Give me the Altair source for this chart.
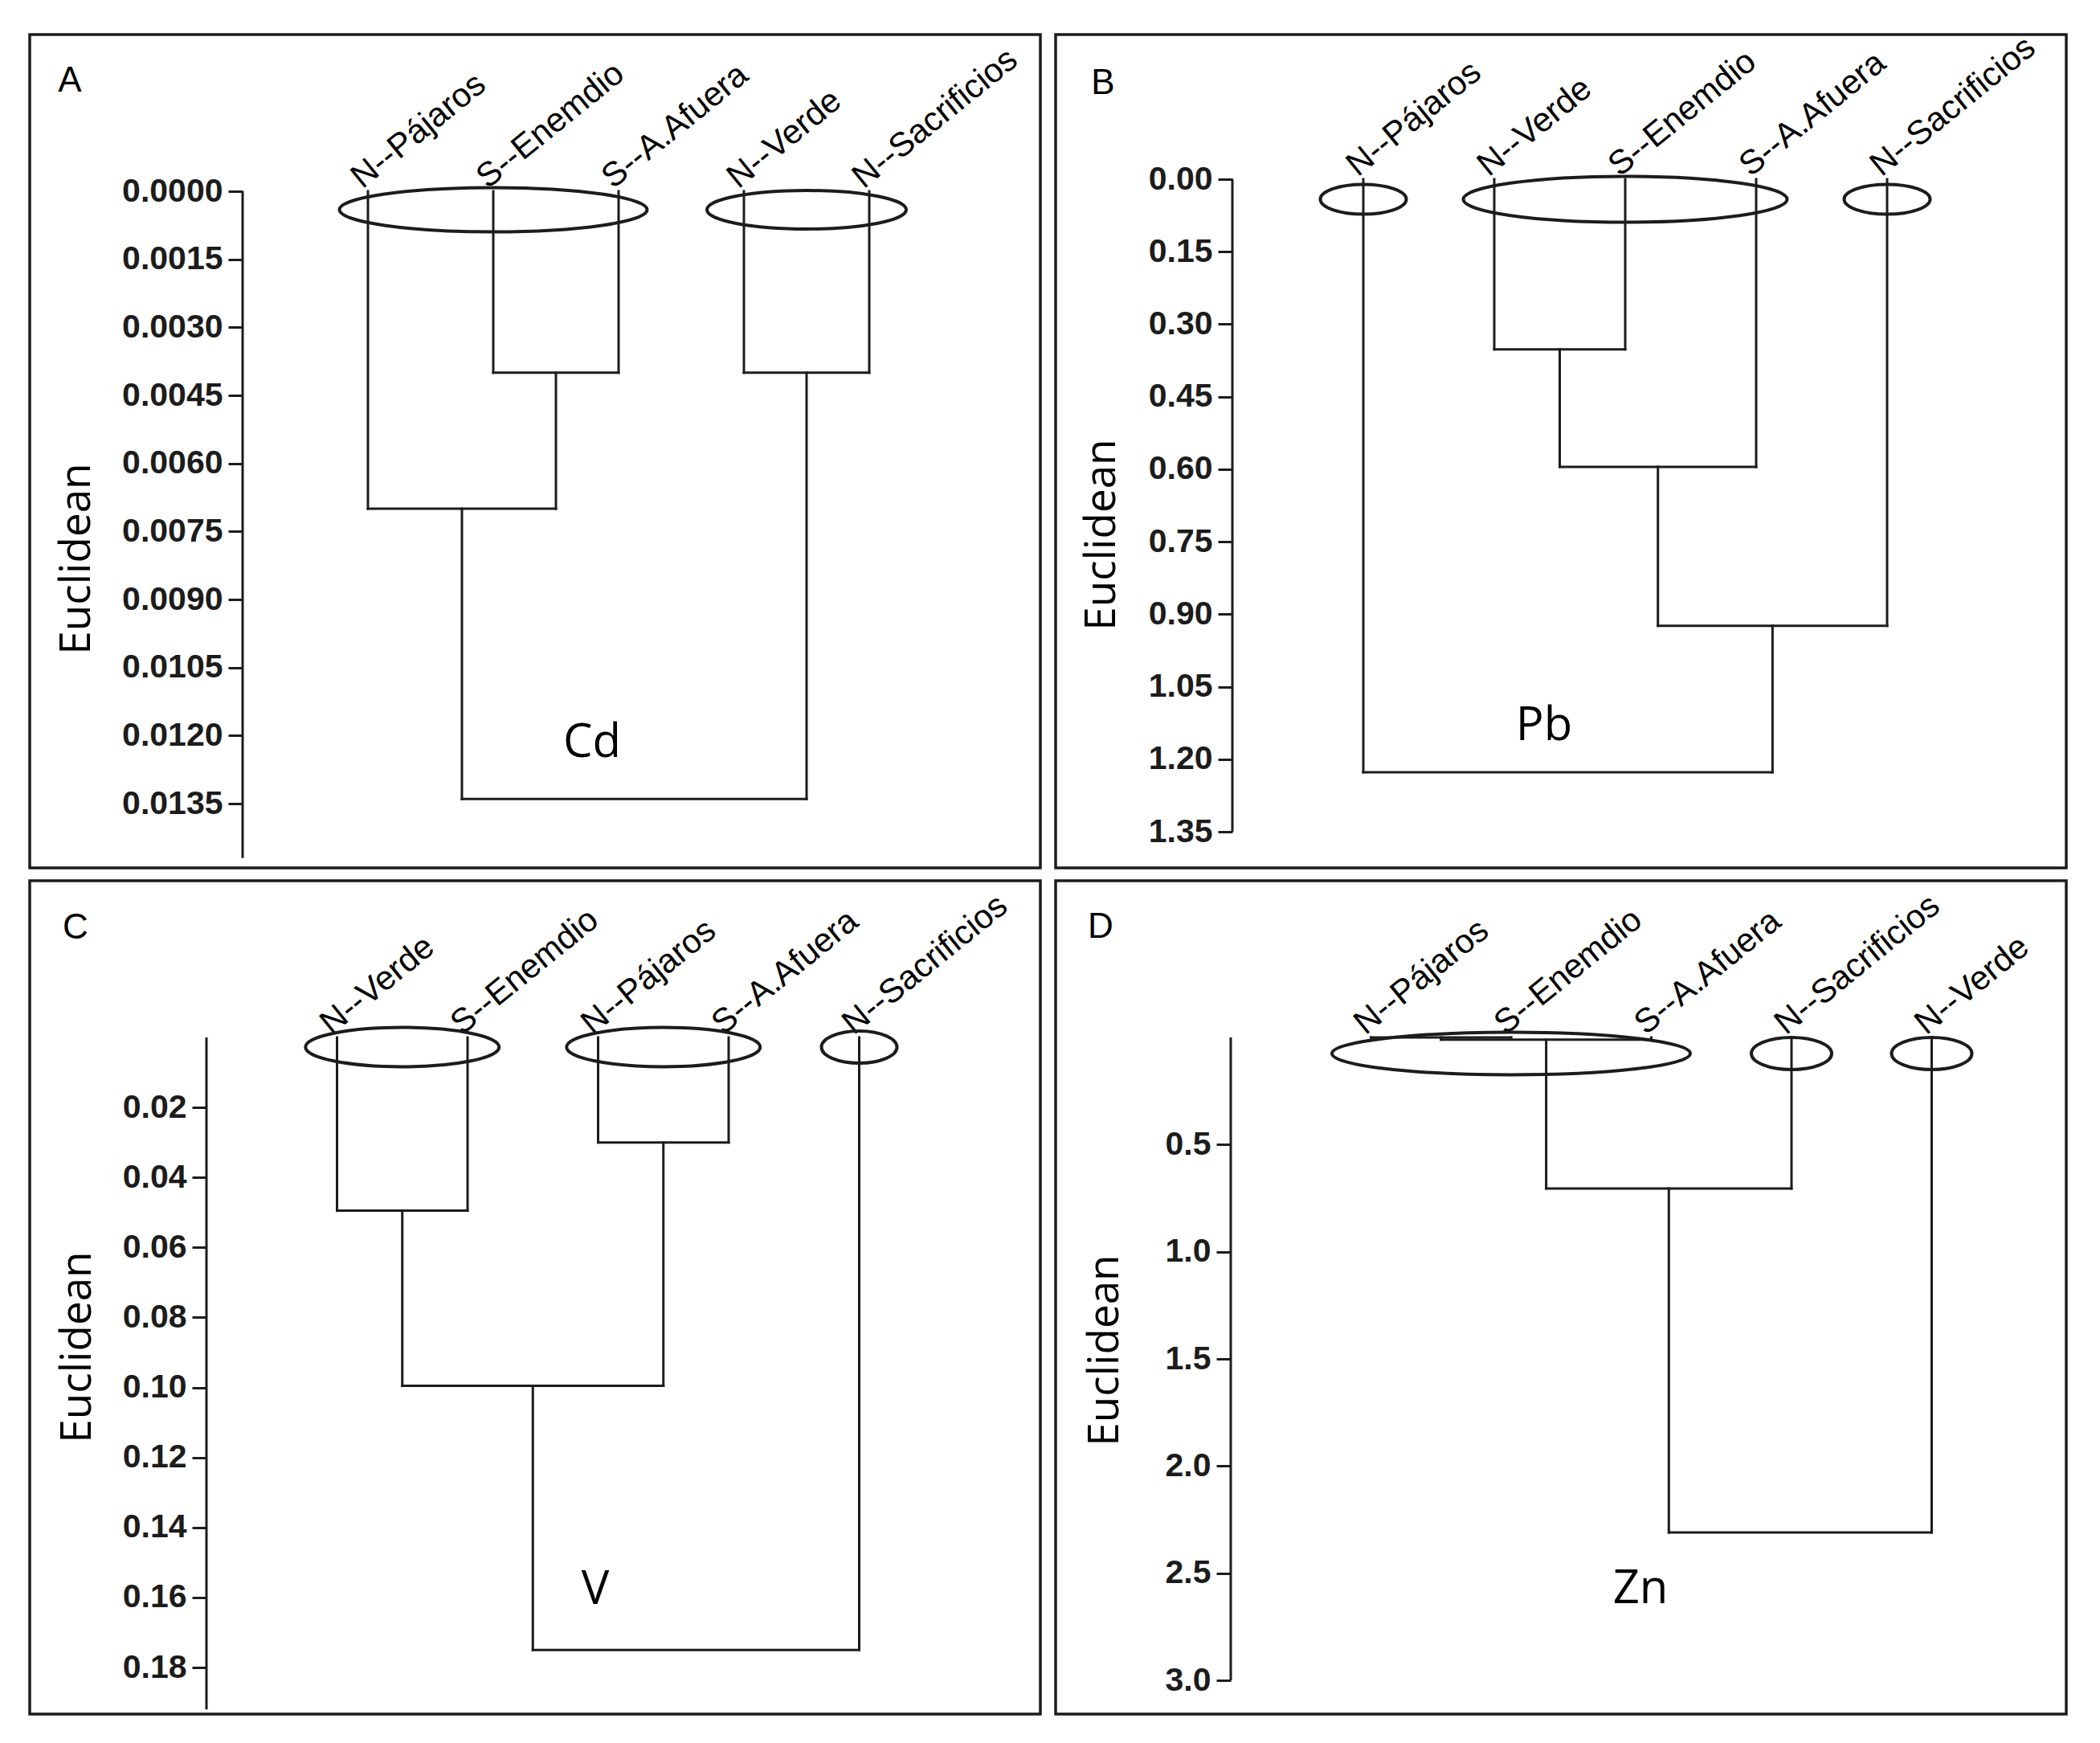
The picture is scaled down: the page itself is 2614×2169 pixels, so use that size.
import altair as alt
import pandas as pd

# ---------------- data ----------------
# Leaves are numbered 1..5 in drawing order; merge k creates node 5+k.
A_LEAVES = ["N--Pájaros", "S--Enemdio", "S--A.Afuera", "N--Verde", "N--Sacrificios"]
A_LEFT = [2, 4, 1, 8]
A_RIGHT = [3, 5, 6, 7]
A_HEIGHT = [0.0040, 0.0040, 0.0070, 0.0134]
A_TICKS = [0.0000, 0.0015, 0.0030, 0.0045, 0.0060, 0.0075, 0.0090, 0.0105, 0.0120, 0.0135]
A_AXIS_END = 0.0147
A_GROUPS = [(1, 3), (4, 5)]

B_LEAVES = ["N--Pájaros", "N--Verde", "S--Enemdio", "S--A.Afuera", "N--Sacrificios"]
B_LEFT = [2, 6, 7, 1]
B_RIGHT = [3, 4, 5, 8]
B_HEIGHT = [0.352, 0.595, 0.924, 1.227]
B_TICKS = [0.00, 0.15, 0.30, 0.45, 0.60, 0.75, 0.90, 1.05, 1.20, 1.35]
B_AXIS_END = 1.35
B_GROUPS = [(1, 1), (2, 4), (5, 5)]

C_LEAVES = ["N--Verde", "S--Enemdio", "N--Pájaros", "S--A.Afuera", "N--Sacrificios"]
C_LEFT = [1, 3, 6, 8]
C_RIGHT = [2, 4, 7, 5]
C_HEIGHT = [0.0495, 0.030, 0.0995, 0.175]
C_TICKS = [0.02, 0.04, 0.06, 0.08, 0.10, 0.12, 0.14, 0.16, 0.18]
C_AXIS_END = 0.192
C_GROUPS = [(1, 2), (3, 4), (5, 5)]

D_LEAVES = ["N--Pájaros", "S--Enemdio", "S--A.Afuera", "N--Sacrificios", "N--Verde"]
D_LEFT = [1, 6, 7, 8]
D_RIGHT = [2, 3, 4, 5]
D_HEIGHT = [0.0, 0.01, 0.705, 2.31]
D_TICKS = [0.5, 1.0, 1.5, 2.0, 2.5, 3.0]
D_AXIS_END = 3.0
D_GROUPS = [(1, 3), (4, 4), (5, 5)]

LETTERS = ["A", "B", "C", "D"]
ELEMENTS = ["Cd", "Pb", "V", "Zn"]
AXIS_TITLE = "Euclidean"

# ---------------- styles / layout (pixels) ----------------
W, H = 1258, 1037
INK = "#1c1c1c"
STYLE = {
    "A": dict(p0=265, s=156.0, y0=195, k=762 / 0.0135, fmt=".4f",
              ell=[(383, 55), (248, 48)], ell_dy=23,
              letter=(50, 58), elem=(700, 882), title=(58, 652)),
    "B": dict(p0=220, s=163.0, y0=180, k=812 / 1.35, fmt=".2f",
              ell=[(107, 37), (403, 57), (107, 37)], ell_dy=25,
              letter=(59, 61), elem=(608, 861), title=(57, 622)),
    "C": dict(p0=220, s=162.5, y0=195, k=784 / 0.18, fmt=".2f",
              ell=[(241, 49), (241, 49), (94, 40)], ell_dy=12,
              letter=(57, 59), elem=(704, 883), title=(59, 580)),
    "D": dict(p0=218, s=174.5, y0=195, k=800 / 3.0, fmt=".1f",
              ell=[(446, 53), (100, 40), (100, 40)], ell_dy=20,
              letter=(56, 58), elem=(728, 882), title=(61, 584)),
}


def ellipse_path(w, h):
    r = h / w
    return f"M -1 0 A 1 {r:.4f} 0 1 0 1 0 A 1 {r:.4f} 0 1 0 -1 0 Z"


def tree_segments(leaves, left, right, heights):
    n = len(leaves)
    xpos = {i + 1: float(i + 1) for i in range(n)}
    hgt = {i + 1: 0.0 for i in range(n)}
    parent = {}
    rows = []
    for j, (a, b, h) in enumerate(zip(left, right, heights)):
        node = n + 1 + j
        xpos[node] = (xpos[a] + xpos[b]) / 2
        hgt[node] = h
        parent[a] = h
        parent[b] = h
        rows.append(dict(x=xpos[a], x2=xpos[b], y=h, y2=h))
    for node, ph in parent.items():
        rows.append(dict(x=xpos[node], x2=xpos[node], y=hgt[node], y2=ph))
    return pd.DataFrame(rows)


def panel(key, leaves, left, right, heights, ticks, axis_end, groups, letter, element):
    st = STYLE[key]
    p0, s, y0, k = st["p0"], st["s"], st["y0"], st["k"]
    xs = alt.Scale(domain=[-p0 / s, (W - p0) / s], nice=False, zero=False)
    ys = alt.Scale(domain=[-y0 / k, (H - y0) / k], reverse=True, nice=False, zero=False)
    tx, ty = st["title"]
    yax = alt.Axis(values=ticks, format=st["fmt"], offset=-p0, domain=False, grid=False,
                   tickSize=18, tickWidth=3, tickColor=INK,
                   labelFont="Liberation Sans", labelFontSize=41, labelFontWeight="bold",
                   labelColor=INK, labelPadding=7,
                   title=AXIS_TITLE, titleFont="Open Sans", titleFontSize=53,
                   titleFontWeight="normal", titleColor="black", titleAngle=270,
                   titleX=tx - p0, titleY=ty, titleAlign="center", titleBaseline="middle")
    X = lambda f: alt.X(f, type="quantitative", scale=xs, axis=None)
    Y = lambda f: alt.Y(f, type="quantitative", scale=ys, axis=yax)

    seg = tree_segments(leaves, left, right, heights)
    tree = alt.Chart(seg).mark_rule(color=INK, strokeWidth=3, strokeCap="square").encode(
        x=X("x"), x2="x2", y=Y("y"), y2="y2")

    axis_line = alt.Chart(pd.DataFrame({"x": [0.0], "y": [0.0], "y2": [axis_end]})).mark_rule(
        color=INK, strokeWidth=3).encode(x=X("x"), y=Y("y"), y2="y2")

    leaf_df = pd.DataFrame({"name": leaves, "x": [float(i + 1) for i in range(len(leaves))],
                            "y": [0.0] * len(leaves)})
    labels = alt.Chart(leaf_df).mark_text(
        angle=321, align="left", baseline="alphabetic", dx=-4, dy=-6,
        font="Liberation Sans", fontSize=42, color="black").encode(
        x=X("x"), y=Y("y"), text="name:N")

    layers = [tree, axis_line, labels]
    for (g0, g1), (w, h) in zip(groups, st["ell"]):
        cx = (g0 + g1) / 2
        cy = st["ell_dy"] / k
        layers.append(
            alt.Chart(pd.DataFrame({"x": [cx], "y": [cy]})).mark_point(
                shape=ellipse_path(w, h), size=w * w, filled=False, strokeWidth=4,
                color=INK, opacity=1).encode(x=X("x"), y=Y("y")))

    lx, ly = st["letter"]
    layers.append(alt.Chart(pd.DataFrame({"t": [letter]})).mark_text(
        align="center", baseline="middle", font="Liberation Sans", fontSize=44,
        color="black").encode(x=alt.value(lx), y=alt.value(ly), text="t:N"))
    ex, ey = st["elem"]
    layers.append(alt.Chart(pd.DataFrame({"t": [element]})).mark_text(
        align="center", baseline="middle", font="Open Sans", fontSize=58,
        color="black").encode(x=alt.value(ex), y=alt.value(ey), text="t:N"))

    return alt.layer(*layers).properties(width=W, height=H)


pa = panel("A", A_LEAVES, A_LEFT, A_RIGHT, A_HEIGHT, A_TICKS, A_AXIS_END, A_GROUPS, LETTERS[0], ELEMENTS[0])
pb = panel("B", B_LEAVES, B_LEFT, B_RIGHT, B_HEIGHT, B_TICKS, B_AXIS_END, B_GROUPS, LETTERS[1], ELEMENTS[1])
pc = panel("C", C_LEAVES, C_LEFT, C_RIGHT, C_HEIGHT, C_TICKS, C_AXIS_END, C_GROUPS, LETTERS[2], ELEMENTS[2])
pd_ = panel("D", D_LEAVES, D_LEFT, D_RIGHT, D_HEIGHT, D_TICKS, D_AXIS_END, D_GROUPS, LETTERS[3], ELEMENTS[3])

chart = alt.vconcat(
    alt.hconcat(pa, pb, spacing=15),
    alt.hconcat(pc, pd_, spacing=15),
    spacing=12,
).properties(
    padding={"left": 27, "top": 27, "right": 5, "bottom": 5},
    background="white",
).configure_view(stroke=INK, strokeWidth=3.5)

chart.save("out.html", embed_options={"renderer": "svg", "actions": False})
